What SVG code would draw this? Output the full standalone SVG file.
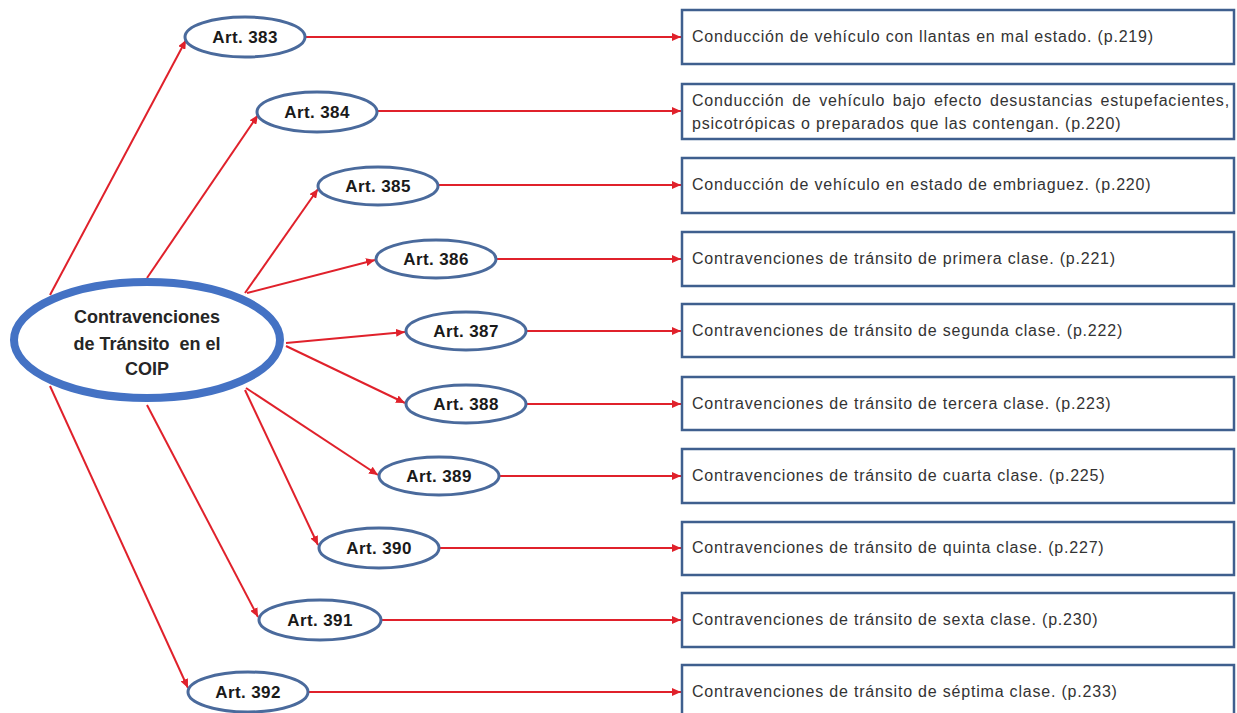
<svg xmlns="http://www.w3.org/2000/svg" width="1237" height="713" viewBox="0 0 1237 713">
<style>
.bg{fill:#ffffff}
.art{fill:#ffffff;stroke:#4a6a9c;stroke-width:3}
.artt{font-family:"Liberation Sans",Arial,sans-serif;font-weight:bold;font-size:17px;letter-spacing:0.4px;fill:#1a1a1a;text-anchor:middle}
.box{fill:#ffffff;stroke:#3f5f8e;stroke-width:2.5}
.boxt{font-family:"Liberation Sans",Arial,sans-serif;font-size:16px;letter-spacing:0.8px;fill:#333333}
.main{fill:#ffffff;stroke:#4472c4;stroke-width:8}
.maint{font-family:"Liberation Sans",Arial,sans-serif;font-weight:bold;font-size:18px;fill:#262626;text-anchor:middle}
.con{stroke:#e0212b;stroke-width:2;fill:none;marker-end:url(#ah)}
</style>
<defs>
<marker id="ah" markerUnits="userSpaceOnUse" markerWidth="10" markerHeight="8" refX="9" refY="4" orient="auto">
<path d="M0,0 L9,4 L0,8 Z" fill="#e0212b"/>
</marker>
</defs>
<rect class="bg" x="0" y="0" width="1237" height="713"/>
<g id="connectors">
<line class="con" x1="50" y1="295" x2="186" y2="40"/>
<line class="con" x1="147" y1="278" x2="258" y2="115"/>
<line class="con" x1="245" y1="293" x2="318" y2="189"/>
<line class="con" x1="247" y1="293" x2="375" y2="260"/>
<line class="con" x1="286" y1="343" x2="405" y2="332"/>
<line class="con" x1="286" y1="346" x2="405" y2="403"/>
<line class="con" x1="246" y1="388" x2="378" y2="475"/>
<line class="con" x1="245" y1="390" x2="318" y2="545"/>
<line class="con" x1="147" y1="405" x2="258" y2="617"/>
<line class="con" x1="50" y1="386" x2="188" y2="688"/>
<line class="con" x1="305" y1="37" x2="681" y2="37"/>
<line class="con" x1="377" y1="111" x2="681" y2="111"/>
<line class="con" x1="438" y1="185" x2="681" y2="185"/>
<line class="con" x1="496" y1="259" x2="681" y2="259"/>
<line class="con" x1="526" y1="331" x2="681" y2="331"/>
<line class="con" x1="526" y1="404" x2="681" y2="404"/>
<line class="con" x1="499" y1="476" x2="681" y2="476"/>
<line class="con" x1="439" y1="548" x2="681" y2="548"/>
<line class="con" x1="381" y1="620" x2="681" y2="620"/>
<line class="con" x1="308" y1="692" x2="681" y2="692"/>
</g>
<g id="main">
<ellipse class="main" cx="147" cy="340" rx="133" ry="58"/>
<text class="maint" x="147" y="323">Contravenciones</text>
<text class="maint" x="147" y="350" xml:space="preserve">de Tránsito  en el</text>
<text class="maint" x="147" y="375">COIP</text>
</g>
<g id="art383"><ellipse class="art" cx="245" cy="37" rx="60" ry="20"/><text class="artt" x="245" y="43">Art. 383</text></g>
<g id="art384"><ellipse class="art" cx="317" cy="112" rx="60" ry="20"/><text class="artt" x="317" y="118">Art. 384</text></g>
<g id="art385"><ellipse class="art" cx="378" cy="186" rx="60" ry="19"/><text class="artt" x="378" y="192">Art. 385</text></g>
<g id="art386"><ellipse class="art" cx="436" cy="259" rx="60" ry="19"/><text class="artt" x="436" y="265">Art. 386</text></g>
<g id="art387"><ellipse class="art" cx="466" cy="331" rx="60" ry="19"/><text class="artt" x="466" y="337">Art. 387</text></g>
<g id="art388"><ellipse class="art" cx="466" cy="404" rx="60" ry="19"/><text class="artt" x="466" y="410">Art. 388</text></g>
<g id="art389"><ellipse class="art" cx="439" cy="476" rx="60" ry="19"/><text class="artt" x="439" y="482">Art. 389</text></g>
<g id="art390"><ellipse class="art" cx="379" cy="548" rx="60" ry="20"/><text class="artt" x="379" y="554">Art. 390</text></g>
<g id="art391"><ellipse class="art" cx="320" cy="620" rx="61" ry="20"/><text class="artt" x="320" y="626">Art. 391</text></g>
<g id="art392"><ellipse class="art" cx="248" cy="692" rx="60" ry="20"/><text class="artt" x="248" y="698">Art. 392</text></g>
<g id="box1"><rect class="box" x="682" y="10" width="552" height="54"/><text class="boxt" x="692" y="42">Conducción de vehículo con llantas en mal estado. (p.219)</text></g>
<g id="box2"><rect class="box" x="682" y="84" width="552" height="55"/><text class="boxt" x="692" y="106" word-spacing="2.4">Conducción de vehículo bajo efecto desustancias estupefacientes,</text><text class="boxt" x="692" y="129">psicotrópicas o preparados que las contengan. (p.220)</text></g>
<g id="box3"><rect class="box" x="682" y="158" width="552" height="55"/><text class="boxt" x="692" y="190">Conducción de vehículo en estado de embriaguez. (p.220)</text></g>
<g id="box4"><rect class="box" x="682" y="232" width="552" height="54"/><text class="boxt" x="692" y="264">Contravenciones de tránsito de primera clase. (p.221)</text></g>
<g id="box5"><rect class="box" x="682" y="304" width="552" height="53"/><text class="boxt" x="692" y="336">Contravenciones de tránsito de segunda clase. (p.222)</text></g>
<g id="box6"><rect class="box" x="682" y="377" width="552" height="53"/><text class="boxt" x="692" y="409">Contravenciones de tránsito de tercera clase. (p.223)</text></g>
<g id="box7"><rect class="box" x="682" y="449" width="552" height="54"/><text class="boxt" x="692" y="481">Contravenciones de tránsito de cuarta clase. (p.225)</text></g>
<g id="box8"><rect class="box" x="682" y="522" width="552" height="53"/><text class="boxt" x="692" y="553">Contravenciones de tránsito de quinta clase. (p.227)</text></g>
<g id="box9"><rect class="box" x="682" y="593" width="552" height="54"/><text class="boxt" x="692" y="625">Contravenciones de tránsito de sexta clase. (p.230)</text></g>
<g id="box10"><rect class="box" x="682" y="665" width="552" height="54"/><text class="boxt" x="692" y="697">Contravenciones de tránsito de séptima clase. (p.233)</text></g>
</svg>
